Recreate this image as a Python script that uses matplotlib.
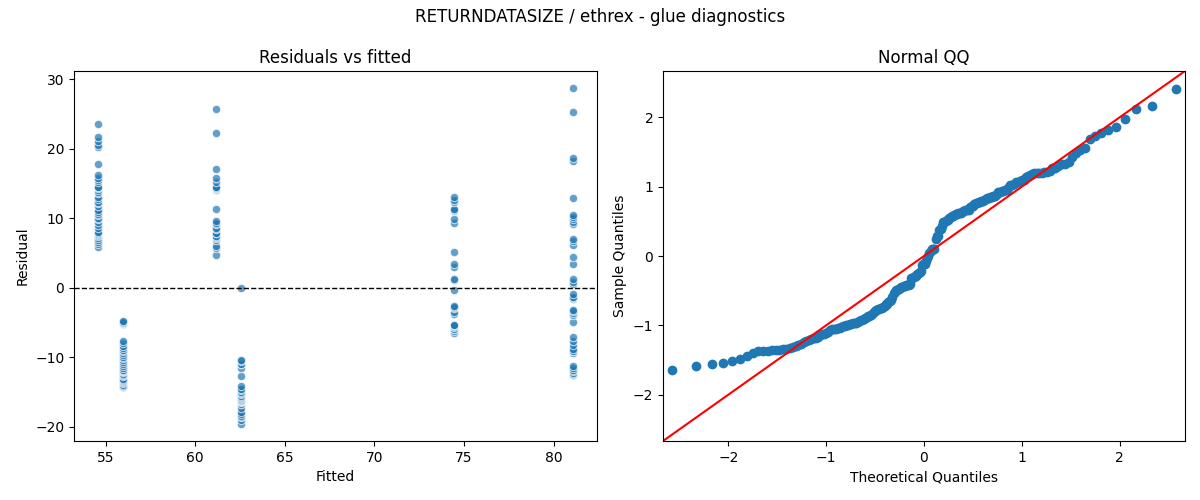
# -*- coding: utf-8 -*-
# Residual diagnostics for the RETURNDATASIZE / ethrex glue model

# %%
# * Import packages
import numpy as np
import matplotlib
matplotlib.use("Agg")
import matplotlib.pyplot as plt
from statistics import NormalDist

# %%
# * 1. Data (fitted value per group, residuals per group)
fitted_levels = [54.57, 55.96, 61.18, 62.57, 74.44, 81.1]

resid_g1 = [5.86, 6.3, 6.62, 6.9, 7.2, 7.5, 7.6, 7.8, 7.95, 8.0, 8.6, 9.0, 9.48,
            9.95, 10.1, 10.43, 10.7, 11.0, 11.29, 11.76, 12.2, 12.43, 12.81, 13.1,
            13.6, 13.86, 14.05, 14.4, 14.52, 14.6, 15.19, 15.5, 15.86, 16.24,
            17.86, 20.24, 20.62, 21.19, 21.76, 23.57]
resid_g2 = [-14.24, -14.1, -13.9, -13.67, -13.5, -13.4, -13.19, -13.1, -12.7, -12.52,
            -12.4, -12.1, -12.0, -11.95, -11.8, -11.47, -11.2, -11.0, -10.62, -10.3,
            -10.14, -10.0, -9.67, -9.4, -9.1, -8.9, -8.62, -8.3, -7.95, -7.7, -5.19,
            -5.1, -5.0, -4.95, -4.81]
resid_g3 = [4.71, 5.81, 6.05, 6.9, 7.2, 7.4, 7.48, 7.86, 7.95, 8.43, 8.7, 9.14,
            9.3, 9.62, 11.38, 14.14, 14.24, 14.35, 14.4, 14.52, 15.19, 15.81, 17.1,
            22.24, 25.8]
resid_g4 = [-19.6, -19.0, -18.6, -18.4, -18.1, -17.8, -17.2, -16.7, -16.4, -16.3,
            -16.3, -16.25, -16.2, -16.2, -16.1, -16.0, -15.8, -15.7, -15.5, -15.3,
            -15.1, -14.9, -14.7, -14.5, -14.1, -12.6, -11.5, -11.0, -10.9, -10.5,
            -10.4, 0.0]
resid_g5 = [-6.43, -6.24, -5.9, -5.86, -5.6, -5.5, -5.38, -5.3, -3.71, -3.48, -2.9,
            -2.67, -2.6, -0.29, 1.2, 1.29, 2.95, 3.43, 5.19, 9.38, 9.95, 11.1, 11.19,
            11.38, 12.33, 12.71, 13.1]
resid_g6 = [-12.5, -12.43, -12.2, -11.95, -11.8, -11.57, -11.3, -9.3, -9.1, -9.0,
            -8.71, -8.24, -7.6, -7.05, -4.92, -3.86, -3.6, -3.38, -3.1, -1.6, -1.4,
            -1.33, -0.86, 0.6, 0.9, 1.29, 3.38, 4.52, 6.14, 6.76, 7.0, 9.14, 9.48,
            9.86, 10.2, 10.43, 12.95, 18.33, 18.67, 25.38, 28.8]

groups = [resid_g1, resid_g2, resid_g3, resid_g4, resid_g5, resid_g6]

# %%
# * 2. Flatten into fitted / residual arrays
fitted = np.concatenate([[f] * len(r) for f, r in zip(fitted_levels, groups)])
resid = np.concatenate(groups)

# %%
# * 3. Normal QQ values (standardised residuals vs normal quantiles)
n = len(resid)
sample_q = np.sort((resid - resid.mean()) / resid.std())
nd = NormalDist()
theor_q = np.array([nd.inv_cdf(i / (n + 1)) for i in range(1, n + 1)])

# %%
# * 4. Plot
fig = plt.figure(figsize=(12, 5), dpi=100)
ax1 = fig.add_axes([0.0617, 0.118, 0.4358, 0.740])
ax2 = fig.add_axes([0.5525, 0.118, 0.4350, 0.740])

ax1.scatter(fitted, resid, s=36, color="#1f77b4", alpha=0.7,
            edgecolors="white", linewidths=0.75)
ax1.axhline(0, color="black", linestyle="--", linewidth=1)
ax1.set_xlabel("Fitted")
ax1.set_ylabel("Residual")
ax1.set_title("Residuals vs fitted")

ax2.plot(theor_q, sample_q, marker="o", linestyle="none", color="#1f77b4",
         markersize=6)
lims = [-2.67, 2.67]
ax2.plot(lims, lims, "r-")
ax2.set_xlim(lims)
ax2.set_ylim(lims)
ax2.set_xlabel("Theoretical Quantiles")
ax2.set_ylabel("Sample Quantiles")
ax2.set_title("Normal QQ")

fig.suptitle("RETURNDATASIZE / ethrex - glue diagnostics", y=0.985)

# %%
# * 5. Save
fig.savefig("out.png", dpi=100)
